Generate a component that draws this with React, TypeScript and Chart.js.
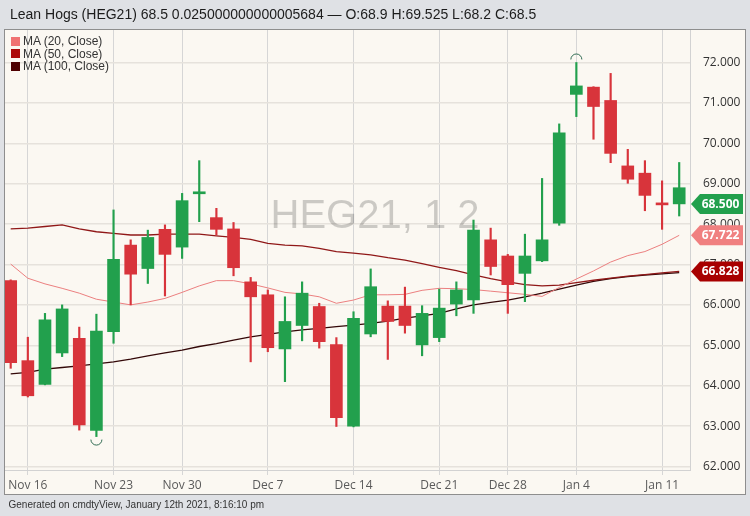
import React, { useEffect, useRef } from "react";
import { Chart, registerables } from "chart.js";

Chart.register(...registerables);

// ---------- data ----------
const dates = [
  "Nov 13", "Nov 16", "Nov 17", "Nov 18", "Nov 19", "Nov 20", "Nov 23", "Nov 24", "Nov 25", "Nov 27",
  "Nov 30", "Dec 1", "Dec 2", "Dec 3", "Dec 4", "Dec 7", "Dec 8", "Dec 9", "Dec 10", "Dec 11",
  "Dec 14", "Dec 15", "Dec 16", "Dec 17", "Dec 18", "Dec 21", "Dec 22", "Dec 23", "Dec 24", "Dec 28",
  "Dec 29", "Dec 30", "Dec 31", "Jan 4", "Jan 5", "Jan 6", "Jan 7", "Jan 8", "Jan 11", "Jan 12",
];
const opens = [
  66.6, 64.62, 64.03, 64.81, 65.17, 62.89, 65.34, 67.48, 66.9, 67.87,
  67.43, 68.75, 68.16, 67.88, 66.57, 66.25, 64.91, 65.49, 65.96, 65.02,
  63.0, 65.28, 65.97, 65.97, 65.01, 65.19, 66.02, 66.12, 67.61, 67.21,
  66.78, 67.09, 68.02, 71.21, 71.39, 71.06, 69.44, 69.26, 68.525, 68.9,
];
const highs = [
  66.62, 65.2, 65.79, 66.0, 65.45, 65.77, 68.35, 67.61, 67.85, 67.98,
  68.76, 69.57, 68.39, 68.04, 66.68, 66.37, 66.2, 66.57, 66.04, 65.19,
  65.83, 66.89, 66.1, 66.44, 65.98, 66.39, 66.57, 68.1, 67.9, 67.25,
  67.75, 69.13, 70.48, 72.0, 71.4, 71.73, 69.85, 69.57, 69.07, 69.525,
];
const lows = [
  64.43, 63.72, 64.02, 64.72, 62.9, 62.74, 65.05, 66.0, 66.53, 66.22,
  67.15, 68.06, 67.73, 66.72, 64.59, 64.84, 64.1, 65.11, 64.93, 62.99,
  62.98, 65.21, 64.65, 65.3, 64.74, 65.09, 65.73, 65.79, 66.74, 65.79,
  66.08, 67.07, 67.97, 70.66, 70.1, 69.52, 69.01, 68.33, 67.87, 68.2,
];
const closes = [
  64.57, 63.75, 65.63, 65.9, 63.03, 65.35, 67.13, 66.76, 67.67, 67.25,
  68.58, 68.77, 67.87, 66.92, 66.2, 64.94, 65.59, 66.29, 65.09, 63.21,
  65.67, 66.45, 65.59, 65.49, 65.79, 65.92, 66.37, 67.85, 66.95, 66.5,
  67.21, 67.61, 70.26, 71.42, 70.91, 69.75, 69.11, 68.71, 68.475, 68.5,
];
const ma20 = [
  67.01, 66.66, 66.52, 66.41, 66.29, 66.14, 66.07, 66.0, 66.07, 66.16,
  66.31, 66.47, 66.6, 66.6, 66.52, 66.42, 66.31, 66.27, 66.2, 66.04,
  66.12, 66.25, 66.25, 66.26, 66.36, 66.41, 66.4, 66.38, 66.34, 66.3,
  66.26, 66.21, 66.43, 66.64, 66.84, 67.06, 67.22, 67.32, 67.5, 67.722,
];
const ma50 = [
  67.88, 67.9, 67.94, 67.98, 67.88, 67.81, 67.77, 67.73, 67.73, 67.75,
  67.75, 67.75, 67.71, 67.67, 67.62, 67.52, 67.48, 67.46, 67.4, 67.32,
  67.28, 67.24, 67.17, 67.11, 67.02, 66.93, 66.85, 66.74, 66.65, 66.57,
  66.5, 66.47, 66.49, 66.55, 66.61, 66.66, 66.71, 66.75, 66.79, 66.828,
];
const ma100 = [
  64.29, 64.33, 64.41, 64.45, 64.49, 64.54, 64.59, 64.66, 64.74, 64.81,
  64.88, 64.97, 65.04, 65.13, 65.21, 65.27, 65.33, 65.38, 65.42, 65.46,
  65.5, 65.54, 65.6, 65.67, 65.73, 65.79, 65.9, 66.0, 66.06, 66.12,
  66.2, 66.29, 66.39, 66.49, 66.58, 66.65, 66.7, 66.74, 66.77, 66.8,
];
const maNames = ["MA (20, Close)", "MA (50, Close)", "MA (100, Close)"];
const tickLabels = ["Nov 16", "Nov 23", "Nov 30", "Dec 7", "Dec 14", "Dec 21", "Dec 28", "Jan 4", "Jan 11"];
const titleText = "Lean Hogs (HEG21) 68.5 0.025000000000005684 \u2014 O:68.9 H:69.525 L:68.2 C:68.5";
const footerText = "Generated on cmdtyView, January 12th 2021, 8:16:10 pm";
const watermarkText = "HEG21, 1 2";

// ---------- styles ----------
const UP = "#22a04d";
const DOWN = "#d8343b";
const maLineColors = ["#ec8080", "#901818", "#330808"];
const maLegendColors = ["#f07272", "#ad0a0a", "#4e0000"];
const maLineWidths = [1, 1.3, 1.3];
const tagColors = ["#f08080", "#a80000"];
const SANS = '"Liberation Sans", Arial, sans-serif';
const AXIS_FONT = '"Open Sans", sans-serif';

export default function App() {
  const ref = useRef<HTMLCanvasElement>(null);

  useEffect(() => {
    document.body.style.margin = "0";
    const canvas = ref.current;
    if (!canvas) return;

    const candleColors = closes.map((c, i) =>
      (i === 0 ? c >= opens[i] : c >= closes[i - 1]) ? UP : DOWN
    );
    const tickIdx = tickLabels.map((l) => dates.indexOf(l));
    const hiIdx = highs.indexOf(Math.max(...highs));
    const loIdx = lows.indexOf(Math.min(...lows));
    const mas = [ma20, ma50, ma100];

    const decor = {
      id: "decor",
      beforeDraw(chart: any) {
        const ctx = chart.ctx;
        const { left, top } = chart.chartArea;
        const right = chart.width - 4;
        const bottom = chart.height - 22;
        ctx.save();
        ctx.fillStyle = "#dfe1e5";
        ctx.fillRect(0, 0, chart.width, chart.height);
        ctx.fillStyle = "#fbf8f2";
        ctx.fillRect(left - 1, top - 1, right - left + 1, bottom - top + 1);
        ctx.strokeStyle = "#8e8e8e";
        ctx.lineWidth = 1;
        ctx.strokeRect(left - 0.5, top - 0.5, right - left, bottom - top + 1);
        ctx.restore();
      },
      beforeDatasetsDraw(chart: any) {
        const ctx = chart.ctx;
        ctx.save();
        ctx.font = '40px "Liberation Sans", Arial';
        ctx.fillStyle = "rgba(0,0,0,0.19)";
        ctx.textAlign = "center";
        ctx.textBaseline = "alphabetic";
        ctx.fillText(watermarkText, chart.width / 2, chart.chartArea.top + 198);
        ctx.restore();
      },
      afterDatasetsDraw(chart: any) {
        const ctx = chart.ctx;
        const xs = chart.scales.x;
        const ys = chart.scales.y;
        ctx.save();
        ctx.strokeStyle = "#2f6b52";
        ctx.lineWidth = 1;
        ctx.beginPath();
        ctx.arc(xs.getPixelForValue(hiIdx), ys.getPixelForValue(highs[hiIdx]) - 3, 5.5, Math.PI, 2 * Math.PI);
        ctx.stroke();
        ctx.beginPath();
        ctx.arc(xs.getPixelForValue(loIdx), ys.getPixelForValue(lows[loIdx]) + 3, 5.5, 0, Math.PI);
        ctx.stroke();
        ctx.restore();
      },
      afterDraw(chart: any) {
        const ctx = chart.ctx;
        const ca = chart.chartArea;
        const ys = chart.scales.y;
        ctx.save();
        // clip the y labels below the plot bottom
        ctx.fillStyle = "#fbf8f2";
        ctx.fillRect(ca.right + 1, ca.bottom + 1, chart.width - 5 - ca.right - 1, chart.height - 22 - ca.bottom - 1);
        const drawTag = (value: number, color: string) => {
          const y = ys.getPixelForValue(value);
          const x0 = ca.right + 1;
          const x1 = chart.width - 7;
          const h = 10;
          ctx.fillStyle = color;
          ctx.beginPath();
          ctx.moveTo(x0, y);
          ctx.lineTo(x0 + 9, y - h);
          ctx.lineTo(x1, y - h);
          ctx.lineTo(x1, y + h);
          ctx.lineTo(x0 + 9, y + h);
          ctx.closePath();
          ctx.fill();
          ctx.fillStyle = "#ffffff";
          ctx.font = 'bold 12px "Open Sans", sans-serif';
          ctx.textAlign = "center";
          ctx.textBaseline = "middle";
          ctx.fillText(value.toFixed(3), (x0 + 9 + x1) / 2 - 1, y + 0.5);
        };
        drawTag(ma50[ma50.length - 1], tagColors[1]);
        drawTag(ma20[ma20.length - 1], tagColors[0]);
        const lastI = closes.length - 1;
        drawTag(closes[lastI], candleColors[lastI]);
        ctx.restore();
      },
    };

    const lineSets = mas.map((arr, k) => ({
      type: "line" as const,
      label: maNames[k],
      data: arr.map((v, i) => ({ x: i, y: v })),
      borderColor: maLineColors[k],
      borderWidth: maLineWidths[k],
      pointRadius: 0,
      tension: 0,
      fill: false,
      order: 3,
    }));

    const chart = new Chart(canvas, {
      type: "bar",
      data: {
        datasets: [
          ...lineSets,
          {
            type: "bar",
            label: "wick",
            data: dates.map((_, i) => ({ x: i, y: [lows[i], highs[i]] })),
            backgroundColor: candleColors,
            borderWidth: 0,
            barThickness: 1.5,
            grouped: false,
            order: 2,
          } as any,
          {
            type: "bar",
            label: "body",
            data: dates.map((_, i) => ({ x: i, y: [opens[i], closes[i]] })),
            backgroundColor: candleColors,
            borderWidth: 0,
            barThickness: 12,
            minBarLength: 2,
            grouped: false,
            order: 1,
          } as any,
        ],
      },
      options: {
        animation: false,
        responsive: false,
        events: [],
        layout: { padding: { left: 5, top: 30, right: 4, bottom: 22 } },
        plugins: {
          legend: { display: false },
          tooltip: { enabled: false },
          title: { display: false },
        },
        scales: {
          x: {
            type: "linear",
            min: -0.3325,
            max: 39.63,
            offset: false,
            afterBuildTicks: (s: any) => {
              s.ticks = tickIdx.map((v) => ({ value: v }));
            },
            afterFit: (s: any) => {
              s.height = 24;
            },
            ticks: {
              autoSkip: false,
              maxRotation: 0,
              padding: 3,
              color: "#5a5a5a",
              font: { size: 12, family: AXIS_FONT },
              callback: (v: any) => dates[Math.round(Number(v))],
            },
            grid: { offset: false, color: "#d6d6d6", lineWidth: 1, drawTicks: true, tickLength: 5 },
            border: { display: true, color: "#d2d2d2" },
          },
          y: {
            type: "linear",
            position: "right",
            min: 61.913,
            max: 72.804,
            afterFit: (s: any) => {
              s.width = 56;
            },
            ticks: {
              stepSize: 1,
              includeBounds: false,
              padding: 13,
              color: "#333333",
              font: { size: 12, family: AXIS_FONT },
              callback: (v: any) => Number(v).toFixed(3),
            },
            grid: { color: "#e6e2dc", lineWidth: 1.5, drawTicks: false },
            border: { display: true, color: "#d2d2d2" },
          },
        },
      } as any,
      plugins: [decor],
    });

    return () => chart.destroy();
  }, []);

  return (
    <div style={{ position: "relative", width: 750, height: 516, overflow: "hidden", background: "#dfe1e5" }}>
      <canvas ref={ref} width={750} height={516} style={{ position: "absolute", left: 0, top: 0 }} />
      <div
        style={{
          position: "absolute",
          left: 10,
          top: 6,
          font: `14px ${SANS}`,
          lineHeight: "16px",
          color: "#1c1c1c",
          whiteSpace: "nowrap",
        }}
      >
        {titleText}
      </div>
      <div style={{ position: "absolute", left: 10.5, top: 35 }}>
        {maNames.map((name, k) => (
          <div key={name} style={{ display: "flex", alignItems: "center", height: 12.5 }}>
            <span
              style={{ display: "inline-block", width: 9, height: 9, background: maLegendColors[k], marginRight: 3.5 }}
            />
            <span style={{ font: `12px ${SANS}`, lineHeight: "12.5px", color: "#333", whiteSpace: "nowrap" }}>
              {name}
            </span>
          </div>
        ))}
      </div>
      <div
        style={{
          position: "absolute",
          left: 8.5,
          top: 499,
          font: `10px ${SANS}`,
          lineHeight: "12px",
          color: "#333",
          whiteSpace: "nowrap",
        }}
      >
        {footerText}
      </div>
    </div>
  );
}
